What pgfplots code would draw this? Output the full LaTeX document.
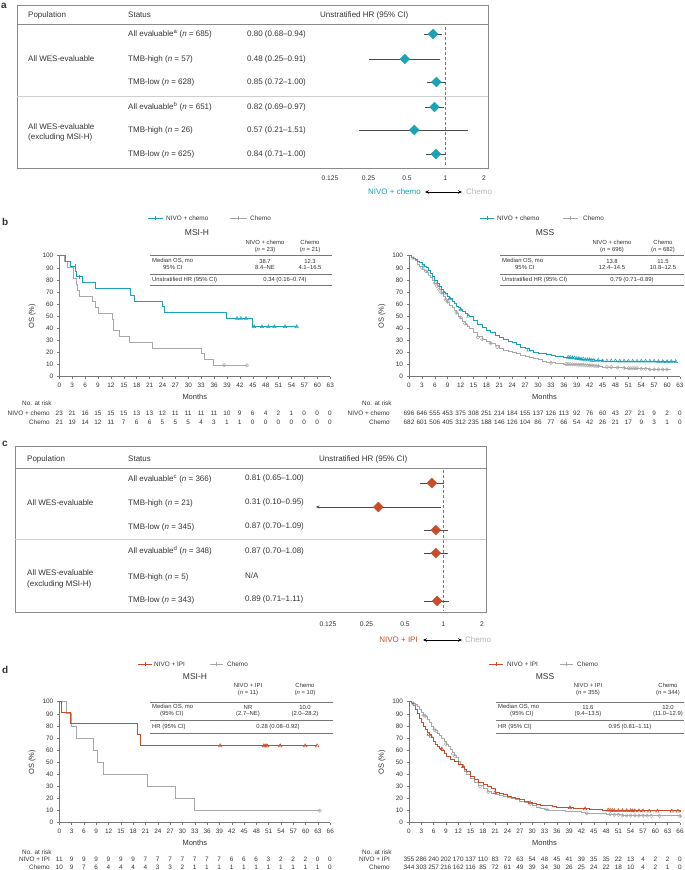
\documentclass[border=0pt]{standalone}
\usepackage{pgfplots}
\pgfplotsset{compat=1.18}
\usepackage{fontspec}
\setmainfont{Liberation Sans}
\usetikzlibrary{arrows.meta}
\definecolor{teal1}{HTML}{1AA3B7}
\definecolor{org}{HTML}{C94D2A}
\definecolor{chemo}{HTML}{A8A8A8}
\definecolor{chemotxt}{HTML}{B5B5B5}
\definecolor{txt}{HTML}{333333}
\definecolor{axg}{HTML}{777777}
\definecolor{boxg}{HTML}{8A8A8A}
\definecolor{sepg}{HTML}{CFCFCF}
\definecolor{cig}{HTML}{4A4A4A}
\newcommand\fa{\fontsize{8}{9.5}\selectfont}
\newcommand\fk{\fontsize{6.4}{7.5}\selectfont}
\newcommand\ft{\fontsize{5.9}{7}\selectfont}
\newcommand\fl{\fontsize{7.5}{9}\selectfont}
\newcommand\fT{\fontsize{8.5}{10}\selectfont}
\newcommand\fP{\fontsize{10}{12}\selectfont\bfseries}
\pgfplotsset{
  hrplot/.style={anchor=south west, scale only axis, width=154pt, height=144pt,
    xmin=0.125, xmax=2, clip=false,
    hide y axis, axis x line*=bottom, x axis line style={draw=none},
    xtick={0.125,0.25,0.5,1,2}, xticklabels={0.125,0.25,0.5,1,2},
    major tick length=0pt,
    xticklabel style={font=\fontsize{6.7}{8}\selectfont, text=txt}},
  ciline/.style={cig, line width=0.7pt, mark=none},
  diaT/.style={only marks, mark=square*, mark size=3.5pt, mark options={rotate=45, fill=teal1, draw=teal1}},
  diaO/.style={only marks, mark=square*, mark size=3.5pt, mark options={rotate=45, fill=org, draw=org}},
  kmplot/.style={anchor=south west, scale only axis, width=271pt, height=121pt,
    xmin=0, ymin=0, ymax=100, ytick={0,10,...,100},
    axis x line*=bottom, axis y line*=left,
    axis line style={-, draw=axg, line width=0.5pt},
    tick style={draw=axg, line width=0.5pt}, tick align=outside, major tick length=2.5pt,
    tick label style={font=\fk, text=txt},
    /pgf/number format/assume math mode=true, clip=false,
    xlabel={Months}, ylabel={OS (\%)}, label style={font=\fl, text=txt}},
  lT/.style={teal1, line width=0.8pt, const plot, mark=none},
  lO/.style={org, line width=0.8pt, const plot, mark=none},
  lC/.style={chemo, line width=0.8pt, const plot, mark=none},
  cT/.style={only marks, mark=triangle, mark size=2pt, mark options={teal1, line width=0.5pt}},
  cO/.style={only marks, mark=triangle, mark size=2pt, mark options={org, line width=0.5pt}},
  cC/.style={only marks, mark=o, mark size=1.7pt, mark options={chemo, line width=0.5pt}},
}
\begin{document}
\begin{tikzpicture}
\useasboundingbox (0pt,0pt) rectangle (685pt,-870pt);
\begin{scope}[x=1pt,y=-1pt, every node/.style={inner sep=0pt, text=txt}]
% ---------- panel labels
\node[anchor=west] at (1,6) {\fP a};
\node[anchor=west] at (2,222) {\fP b};
\node[anchor=west] at (2,444) {\fP c};
\node[anchor=west] at (2,670) {\fP d};
% ---------- panel a box
\draw[boxg, line width=0.6pt] (17,5) rectangle (488,168);
\draw[boxg, line width=0.5pt] (17,24) -- (488,24);
\draw[sepg, line width=0.6pt] (17,96) -- (488,96);
\node[anchor=west] at (28,15) {\fa Population};
\node[anchor=west] at (128,15) {\fa Status};
\node[anchor=west] at (320,15) {\fa Unstratified HR (95\% CI)};
\node[anchor=west] at (28,59) {\fa All WES-evaluable};
\node[anchor=west] at (28,127) {\fa All WES-evaluable};
\node[anchor=west] at (28,137) {\fa (excluding MSI-H)};
\node[anchor=west] at (128,34) {\fa All evaluable\textsuperscript{a} (\textit{n} = 685)};
\node[anchor=west] at (128,59) {\fa TMB-high (\textit{n} = 57)};
\node[anchor=west] at (128,82) {\fa TMB-low (\textit{n} = 628)};
\node[anchor=west] at (128,107) {\fa All evaluable\textsuperscript{b} (\textit{n} = 651)};
\node[anchor=west] at (128,130) {\fa TMB-high (\textit{n} = 26)};
\node[anchor=west] at (128,154) {\fa TMB-low (\textit{n} = 625)};
\node[anchor=west] at (247,34) {\fa 0.80 (0.68–0.94)};
\node[anchor=west] at (247,59) {\fa 0.48 (0.25–0.91)};
\node[anchor=west] at (247,82) {\fa 0.85 (0.72–1.00)};
\node[anchor=west] at (247,107) {\fa 0.82 (0.69–0.97)};
\node[anchor=west] at (247,130) {\fa 0.57 (0.21–1.51)};
\node[anchor=west] at (247,154) {\fa 0.84 (0.71–1.00)};
\node[anchor=east, text=teal1] at (421,192) {\fa NIVO + chemo};
\draw[{Stealth[length=4pt,width=3.5pt]}-{Stealth[length=4pt,width=3.5pt]}, line width=0.8pt, black] (425,192) -- (462,192);
\node[anchor=west, text=chemotxt] at (466,192) {\fa Chemo};
% ---------- panel c box
\draw[boxg, line width=0.6pt] (15,446) rectangle (486,612);
\draw[boxg, line width=0.5pt] (15,468) -- (486,468);
\draw[sepg, line width=0.6pt] (15,539) -- (486,539);
\node[anchor=west] at (27,459) {\fa Population};
\node[anchor=west] at (128,459) {\fa Status};
\node[anchor=west] at (319,459) {\fa Unstratified HR (95\% CI)};
\node[anchor=west] at (27,503) {\fa All WES-evaluable};
\node[anchor=west] at (27,573) {\fa All WES-evaluable};
\node[anchor=west] at (27,584) {\fa (excluding MSI-H)};
\node[anchor=west] at (128,479) {\fa All evaluable\textsuperscript{c} (\textit{n} = 366)};
\node[anchor=west] at (128,503) {\fa TMB-high (\textit{n} = 21)};
\node[anchor=west] at (128,527) {\fa TMB-low (\textit{n} = 345)};
\node[anchor=west] at (128,551) {\fa All evaluable\textsuperscript{d} (\textit{n} = 348)};
\node[anchor=west] at (128,577) {\fa TMB-high (\textit{n} = 5)};
\node[anchor=west] at (128,600) {\fa TMB-low (\textit{n} = 343)};
\node[anchor=west] at (245,478) {\fa 0.81 (0.65–1.00)};
\node[anchor=west] at (245,502) {\fa 0.31 (0.10–0.95)};
\node[anchor=west] at (245,526) {\fa 0.87 (0.70–1.09)};
\node[anchor=west] at (245,551) {\fa 0.87 (0.70–1.08)};
\node[anchor=west] at (245,576) {\fa N/A};
\node[anchor=west] at (245,599) {\fa 0.89 (0.71–1.11)};
\node[anchor=east, text=org] at (418,640) {\fa NIVO + IPI};
\draw[{Stealth[length=4pt,width=3.5pt]}-{Stealth[length=4pt,width=3.5pt]}, line width=0.8pt, black] (423,640) -- (462,640);
\node[anchor=west, text=chemotxt] at (465,640) {\fa Chemo};
% ---------- panel b left text
\draw[teal1, line width=0.8pt] (148,218) -- (163,218); \draw[teal1, line width=0.6pt] (155.5,216.2) -- (155.5,219.8);
\node[anchor=west] at (166,218) {\fk NIVO + chemo};
\draw[chemo, line width=0.8pt] (230,218) -- (247,218); \draw[chemo, line width=0.6pt] (238.5,216.2) -- (238.5,219.8);
\node[anchor=west] at (250,218) {\fk Chemo};
\node at (197,233) {\fT MSI-H};
\node at (265,242) {\ft NIVO + chemo}; \node at (265,250) {\ft (\textit{n} = 23)};
\node at (310,242) {\ft Chemo}; \node at (310,250) {\ft (\textit{n} = 21)};
\draw[axg, line width=0.5pt] (150,255) -- (332,255);
\node[anchor=west] at (152,261) {\ft Median OS, mo};
\node at (265,261) {\ft 38.7}; \node at (310,261) {\ft 12.3};
\node[anchor=west] at (163,267) {\ft 95\% CI};
\node at (265,267) {\ft 8.4–NE}; \node at (310,267) {\ft 4.1–16.5};
\draw[axg, line width=0.5pt] (150,274) -- (332,274);
\node[anchor=west] at (152,280) {\ft Unstratified HR (95\% CI)};
\node at (285,280) {\ft 0.34 (0.16–0.74)};
\draw[axg, line width=0.5pt] (150,285) -- (332,285);
% risk b left
\node[anchor=west] at (22,403) {\fk No. at risk};
\node[anchor=east] at (50,413) {\fk NIVO + chemo};
\node[anchor=east] at (50,422) {\fk Chemo};
\foreach \v [count=\i from 0] in {23,21,16,15,15,15,13,13,12,11,11,11,11,10,9,6,4,2,1,0,0,0}
  \node at ({59.3+12.89*\i},413) {\fk \v};
\foreach \v [count=\i from 0] in {21,19,14,12,11,7,6,6,5,5,5,4,3,1,1,0,0,0,0,0,0,0}
  \node at ({59.3+12.89*\i},422) {\fk \v};
% ---------- panel b right text
\draw[teal1, line width=0.8pt] (480,218) -- (494,218); \draw[teal1, line width=0.6pt] (487,216.2) -- (487,219.8);
\node[anchor=west] at (497,218) {\fk NIVO + chemo};
\draw[chemo, line width=0.8pt] (563,218) -- (578,218); \draw[chemo, line width=0.6pt] (570.5,216.2) -- (570.5,219.8);
\node[anchor=west] at (583,218) {\fk Chemo};
\node at (545,233) {\fT MSS};
\node at (612,242) {\ft NIVO + chemo}; \node at (612,250) {\ft (\textit{n} = 696)};
\node at (663,242) {\ft Chemo}; \node at (663,250) {\ft (\textit{n} = 682)};
\draw[axg, line width=0.5pt] (500,255) -- (684,255);
\node[anchor=west] at (502,261) {\ft Median OS, mo};
\node at (612,261) {\ft 13.8}; \node at (663,261) {\ft 11.5};
\node[anchor=west] at (515,267) {\ft 95\% CI};
\node at (612,267) {\ft 12.4–14.5}; \node at (663,267) {\ft 10.8–12.5};
\draw[axg, line width=0.5pt] (500,274) -- (684,274);
\node[anchor=west] at (502,280) {\ft Unstratified HR (95\% CI)};
\node at (632,280) {\ft 0.79 (0.71–0.89)};
\draw[axg, line width=0.5pt] (500,285) -- (684,285);
% risk b right
\node[anchor=west] at (362,403) {\fk No. at risk};
\node[anchor=east] at (390,413) {\fk NIVO + chemo};
\node[anchor=east] at (390,422) {\fk Chemo};
\foreach \v [count=\i from 0] in {696,646,555,453,375,308,251,214,184,155,137,126,113,92,76,60,43,27,21,9,2,0}
  \node at ({409+12.905*\i},413) {\fk \v};
\foreach \v [count=\i from 0] in {682,601,506,405,312,235,188,146,126,104,86,77,66,54,42,26,21,17,9,3,1,0}
  \node at ({409+12.905*\i},422) {\fk \v};
% ---------- panel d left text
\draw[org, line width=0.8pt] (138,664) -- (152,664); \draw[org, line width=0.6pt] (145,662.2) -- (145,665.8);
\node[anchor=west] at (154,664) {\fk NIVO + IPI};
\draw[chemo, line width=0.8pt] (210,664) -- (223,664); \draw[chemo, line width=0.6pt] (216.5,662.2) -- (216.5,665.8);
\node[anchor=west] at (227,664) {\fk Chemo};
\node at (195,677) {\fT MSI-H};
\node at (248,685) {\ft NIVO + IPI}; \node at (248,693) {\ft (\textit{n} = 11)};
\node at (305,685) {\ft Chemo}; \node at (305,693) {\ft (\textit{n} = 10)};
\draw[axg, line width=0.5pt] (150,702) -- (333,702);
\node[anchor=west] at (152,707) {\ft Median OS, mo};
\node at (248,707) {\ft NR}; \node at (305,707) {\ft 10.0};
\node[anchor=west] at (160,714) {\ft (95\% CI)};
\node at (248,714) {\ft (2.7–NE)}; \node at (305,714) {\ft (2.0–28.2)};
\draw[axg, line width=0.5pt] (150,720) -- (333,720);
\node[anchor=west] at (152,727) {\ft HR (95\% CI)};
\node at (278,727) {\ft 0.28 (0.08–0.92)};
\draw[axg, line width=0.5pt] (150,733) -- (333,733);
% risk d left
\node[anchor=west] at (22,852) {\fk No. at risk};
\node[anchor=east] at (50,859.5) {\fk NIVO + IPI};
\node[anchor=east] at (50,867) {\fk Chemo};
\foreach \v [count=\i from 0] in {11,9,9,9,9,9,9,7,7,7,7,7,7,7,6,6,6,3,2,2,2,0,0}
  \node at ({59.3+12.305*\i},859.5) {\fk \v};
\foreach \v [count=\i from 0] in {10,9,7,6,4,4,4,4,3,3,2,1,1,1,1,1,1,1,1,1,1,1,0}
  \node at ({59.3+12.305*\i},867) {\fk \v};
% ---------- panel d right text
\draw[org, line width=0.8pt] (489,664) -- (503,664); \draw[org, line width=0.6pt] (496,662.2) -- (496,665.8);
\node[anchor=west] at (507,664) {\fk NIVO + IPI};
\draw[chemo, line width=0.8pt] (560,664) -- (573,664); \draw[chemo, line width=0.6pt] (566.5,662.2) -- (566.5,665.8);
\node[anchor=west] at (577,664) {\fk Chemo};
\node at (545,677) {\fT MSS};
\node at (588,685) {\ft NIVO + IPI}; \node at (588,693) {\ft (\textit{n} = 355)};
\node at (668,685) {\ft Chemo}; \node at (668,693) {\ft (\textit{n} = 344)};
\draw[axg, line width=0.5pt] (496,702) -- (684,702);
\node[anchor=west] at (498,707) {\ft Median OS, mo};
\node at (588,707) {\ft 11.6}; \node at (668,707) {\ft 12.0};
\node[anchor=west] at (510,714) {\ft (95\% CI)};
\node at (588,714) {\ft (9.4–13.5)}; \node at (668,714) {\ft (11.0–12.9)};
\draw[axg, line width=0.5pt] (496,720) -- (684,720);
\node[anchor=west] at (498,727) {\ft HR (95\% CI)};
\node at (630,727) {\ft 0.95 (0.81–1.11)};
\draw[axg, line width=0.5pt] (496,733) -- (684,733);
% risk d right
\node[anchor=west] at (362,852) {\fk No. at risk};
\node[anchor=east] at (390,859.5) {\fk NIVO + IPI};
\node[anchor=east] at (390,867) {\fk Chemo};
\foreach \v [count=\i from 0] in {355,286,240,202,170,137,110,83,72,63,54,48,45,41,39,35,35,22,13,4,2,2,0}
  \node at ({409+12.318*\i},859.5) {\fk \v};
\foreach \v [count=\i from 0] in {344,303,257,216,162,116,85,72,61,49,39,34,30,26,25,24,22,18,10,4,2,1,0}
  \node at ({409+12.318*\i},867) {\fk \v};
\end{scope}

% ================= forest a
\begin{axis}[xmode=log, log basis x=2, hrplot, at={(330pt,-168pt)}, ymin=-168, ymax=-24, xticklabel style={yshift=-4pt}]
\addplot[axg, densely dashed, line width=0.6pt] coordinates {(1,-27) (1,-167)};
\addplot[ciline] coordinates {(0.68,-34) (0.94,-34)};
\addplot[ciline] coordinates {(0.25,-59) (0.91,-59)};
\addplot[ciline] coordinates {(0.72,-82) (1.00,-82)};
\addplot[ciline] coordinates {(0.69,-107) (0.97,-107)};
\addplot[ciline] coordinates {(0.21,-130) (1.51,-130)};
\addplot[ciline] coordinates {(0.71,-154) (1.00,-154)};
\addplot[diaT] coordinates {(0.80,-34) (0.48,-59) (0.85,-82) (0.82,-107) (0.57,-130) (0.84,-154)};
\end{axis}

% ================= forest c
\begin{axis}[xmode=log, log basis x=2, hrplot, at={(328pt,-612pt)}, ymin=-612, ymax=-468, xticklabel style={yshift=-6pt}]
\addplot[axg, densely dashed, line width=0.6pt] coordinates {(1,-470) (1,-611)};
\addplot[ciline] coordinates {(0.65,-483) (1.00,-483)};
\addplot[ciline, -{Stealth[length=4pt,width=3pt]}] coordinates {(0.95,-507) (0.10,-507)};
\addplot[ciline] coordinates {(0.70,-530) (1.09,-530)};
\addplot[ciline] coordinates {(0.70,-553) (1.08,-553)};
\addplot[ciline] coordinates {(0.71,-601) (1.11,-601)};
\addplot[diaO] coordinates {(0.81,-483) (0.31,-507) (0.87,-530) (0.87,-553) (0.89,-601)};
\end{axis}

% ================= KM b left (MSI-H)
\begin{axis}[kmplot, at={(59.3pt,-376.7pt)}, xmax=63, xtick={0,3,...,63}]
\addplot[lC] coordinates {(0,100) (1.3,95.2) (1.9,90.5) (3.3,81.0) (3.9,76.2) (4.2,71.4) (4.6,66.7) (7.7,61.9) (8.3,57.1) (9.2,52.4) (12.3,47.6) (12.6,38.1) (13.9,33.3) (16.4,28.6) (21.7,23.8) (33.1,19.0) (33.7,14.3) (35.8,9.5) (43.6,9.5)};
\addplot[cC] coordinates {(38.3,9.5) (43.6,9.5)};
\addplot[lT] coordinates {(0,100) (1.5,95.7) (2.5,91.3) (3.8,87.0) (4.0,82.6) (5.4,77.6) (8.5,72.7) (16.6,67.6) (17.4,62.5) (24.0,57.8) (24.4,53.0) (38.9,48.2) (44.9,41.3) (55.2,41.3)};
\addplot[only marks, mark=|, mark size=1.8pt, mark options={teal1, line width=0.5pt}] coordinates {(3.6,91.3) (4.6,82.6)};
\addplot[cT] coordinates {(41.3,48.2) (42.2,48.2) (43.4,48.2) (45.3,41.3) (47.1,41.3) (48.6,41.3) (50.0,41.3) (52.5,41.3) (55.2,41.3)};
\end{axis}

% ================= KM b right (MSS)
\begin{axis}[kmplot, at={(409pt,-376.7pt)}, xmax=63, xtick={0,3,...,63}]
\addplot[lC] coordinates {(0,100) (0.5,99) (1,97.5) (1.5,96) (2,93) (2.5,91) (3,89) (3.5,87.5) (4,86) (4.5,84) (5,82) (5.5,79.5) (6,77) (6.5,74.5) (7,72) (7.5,69) (8,66) (8.5,63.5) (9,61) (9.5,59) (10,57) (10.5,54.5) (11,52) (11.5,50) (12,48) (12.5,45.5) (13,43) (13.5,41.5) (14,40) (15,36.5) (16,33) (17,31) (18,29.5) (19,27.5) (20,25.5) (21,23.5) (22,22) (23,21) (24,20) (25,19) (26,18) (27,17) (28,16) (29,15) (30,14) (31,13) (32,12.2) (33,11.5) (34,11) (35,10.8) (36,10.5) (38,10.2) (40,9.8) (42,9.3) (44,8.8) (45,8) (47,8) (48,7.5) (50,7.2) (52,7) (54,6.5) (56,6) (61,6)};
\addplot[cC] coordinates {(1,98) (3,90) (4,87) (6,77.5) (6.5,75) (7,72) (7.5,69.5) (8.5,63.5) (9,62) (11,53) (12,49) (13,44) (16,32.5) (17,31) (19,27.5) (20.5,24.5) (33,11.5) (36.5,10.5) (37,10.4) (37.5,10.3) (38,10.2) (38.5,10.1) (39,10) (39.5,9.9) (40,9.8) (40.5,9.7) (41,9.5) (41.5,9.4) (42,9.3) (42.5,9.2) (43,9) (43.5,8.9) (44,8.8) (46,8) (47,8) (48.5,7.5) (50,7.2) (51,7) (51.5,7) (52,7) (52.5,7) (53,7) (54,6.5) (55,6.5) (56,6) (57,6) (58,6) (59,6) (60,6)};
\addplot[lT] coordinates {(0,100) (0.5,99) (1,98) (1.5,97) (2,95.5) (2.5,94.5) (3,93) (3.5,91.5) (4,90) (4.5,87.5) (5,85) (5.5,82.5) (6,80) (6.5,77.5) (7,75) (7.5,72.5) (8,70) (8.5,68.5) (9,66.5) (9.5,64.5) (10,62.5) (10.5,60.5) (11,58.5) (11.5,57) (12,55.5) (12.5,54) (13,52.5) (13.5,51) (14,49.5) (15,46.5) (16,43.5) (17,41) (18,38.5) (19,36.5) (20,34.5) (21,32.5) (22,30.5) (23,29.5) (24,28) (25,26.5) (26,24.5) (27,23) (28,22) (29,20.5) (30,19.5) (31,19) (32,18.5) (33,17.5) (34,17) (35,16.5) (36,16) (37,16) (38,15.5) (39,15) (40,14.5) (41,14) (42,14) (43,13.5) (44,13.5) (45,13) (48,13) (50,12.8) (55,12.8) (62,12.5)};
\addplot[cT] coordinates {(3.5,91.5) (8.3,69) (9.5,64.5) (12,55.5) (13.8,50) (27.8,22) (37,16) (37.5,16) (38,15.5) (38.5,15.5) (39,15) (39.5,15) (40,14.5) (40.5,14.5) (41,14) (41.5,14) (42,14) (42.5,13.5) (43,13.5) (44,13.5) (45,13) (46,13) (47,13) (48,13) (49,12.8) (50,12.8) (51,12.8) (52,12.8) (53,12.8) (54,12.8) (55,12.8) (56,12.8) (57,12.8) (58,12.5) (59,12.5) (60,12.5) (61,12.5) (62,12.5)};
\end{axis}

% ================= KM d left (MSI-H)
\begin{axis}[kmplot, at={(59.3pt,-822.7pt)}, xmax=66, xtick={0,3,...,66}]
\addplot[lC] coordinates {(0,100) (1.8,90) (3.0,80) (4.1,70) (8.3,60) (9.3,50) (10.7,40) (21.5,30) (28.2,20) (32.9,10) (63.4,10)};
\addplot[cC] coordinates {(63.4,10)};
\addplot[lO] coordinates {(0,100) (0.6,90.9) (2.6,81.8) (19.0,72.7) (19.7,63.6) (62.8,63.6)};
\addplot[cO] coordinates {(39.2,63.6) (49.8,63.6) (50.2,63.6) (50.6,63.6) (53.8,63.6) (59.9,63.6) (62.8,63.6)};
\end{axis}

% ================= KM d right (MSS)
\begin{axis}[kmplot, at={(409pt,-822.7pt)}, xmax=66, xtick={0,3,...,66}]
\addplot[lC] coordinates {(0,100) (0.5,99.5) (1,98.6) (1.5,97.5) (2,96) (2.5,94) (3,91.5) (3.5,89) (4,87.6) (4.5,85) (5,82.5) (5.5,80) (6,77.5) (6.5,76) (7,74) (7.5,72) (8,69.5) (8.5,67) (9,65) (9.5,63) (10,60.5) (10.5,58) (11,56) (11.5,54) (12,51) (12.5,48.5) (13,46) (13.5,42) (14,40) (15,36.6) (16,33) (17,30.5) (18,28) (19,25.5) (20,24.5) (21,23.5) (22,22.5) (23,21.5) (24,21) (25,20) (26,19) (27,18) (28,17) (29,16) (30,14.5) (31,13) (32,12) (33,11) (34,10.5) (36,10) (38,9.5) (40,9) (42,8.5) (43,8) (45,7.5) (48,7) (50,6.5) (52,6) (56,5.8) (66,5.5)};
\addplot[cC] coordinates {(1,98.6) (1.5,97.5) (3.5,89) (4,88) (6.2,77) (6.7,75.5) (9,65) (10.7,57) (11.2,55) (17.3,30) (19.3,25.3) (29.5,15.5) (33.5,11) (43.3,7.8) (49,7) (50,6.5) (51,6.5) (52,6) (53,6) (54,6) (55,6) (56,5.8) (57,5.8) (58,5.8) (59,5.6) (61,5.5) (66,5.5)};
\addplot[lO] coordinates {(0,100) (0.5,99) (1,97) (1.5,94) (2,90) (2.5,86) (3,83) (3.5,80) (4,77) (4.5,75) (5,73) (5.5,70.5) (6,67.5) (6.5,65) (7,63) (7.5,61.5) (8,60) (8.5,57) (9,54.5) (10,52.5) (11,50.5) (12,48) (13,46.3) (13.5,44) (14,42) (15,38.5) (16,35.5) (17,33.5) (18,32) (19,30) (20,28) (21,25) (22,24) (23,23) (24,22) (25,21) (26,20.5) (27,19.5) (28,18) (29,17) (30,16) (31,15) (32,14.5) (33,14) (35,13.5) (36,13) (38,12.5) (40,12) (42,11.5) (44,11) (47,10.5) (50,10) (55,9.8) (66,9.5)};
\addplot[cO] coordinates {(4.8,73) (5.3,71.5) (8,61) (13.2,46.3) (21,25) (29.5,16.5) (39.2,12.4) (42.9,11.5) (48.5,10.5) (49,10.3) (49.5,10.2) (50,10) (51,10) (52,10) (53,10) (54,10) (54.5,9.8) (55,9.8) (56,9.8) (57,9.8) (58.5,9.6) (60.5,9.6) (64,9.5) (65.5,9.5)};
\end{axis}
\end{tikzpicture}
\end{document}
